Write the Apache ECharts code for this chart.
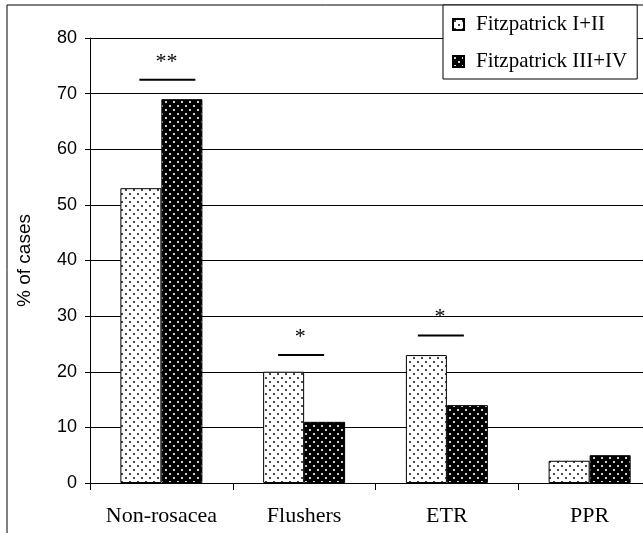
<!DOCTYPE html>
<html>
<head>
<meta charset="utf-8">
<script src="https://cdn.jsdelivr.net/npm/echarts@6/dist/echarts.min.js"></script>
<style>
  html, body { margin: 0; padding: 0; background: #fff; }
  #chart { width: 643px; height: 533px; }
</style>
</head>
<body>
<div id="chart"></div>
<script>
// Rosacea subtype distribution by Fitzpatrick skin type group
const categories = ['Non-rosacea', 'Flushers', 'ETR', 'PPR'];
const fitzLow = [53, 20, 23, 4];    // Fitzpatrick I+II, % of cases
const fitzHigh = [69, 11, 14, 5];   // Fitzpatrick III+IV, % of cases
const yTicks = { min: 0, max: 80, interval: 10 };

// Significance brackets: category, marker, height of the bar line (% scale)
const sigCategories = ['Non-rosacea', 'Flushers', 'ETR'];
const sigMarks = ['**', '*', '*'];
const sigLevels = [72.5, 23, 26.5];

// Dotted fill patterns
function dotPattern(bg, dot) {
  const c = document.createElement('canvas');
  c.width = 8; c.height = 8;
  const ctx = c.getContext('2d');
  ctx.fillStyle = bg;
  ctx.fillRect(0, 0, 8, 8);
  ctx.fillStyle = dot;
  ctx.fillRect(1, 1, 2, 2);
  ctx.fillRect(5, 5, 2, 2);
  return { image: c, repeat: 'repeat' };
}
const lightFill = dotPattern('#ffffff', '#4a4a4a');
const darkFill = dotPattern('#000000', '#d0d0d0');

const SERIF = '"Liberation Serif", "Times New Roman", serif';
const SANS = '"Liberation Sans", Arial, sans-serif';

// horizontal nudge and half-width of each bracket line, in px
const SIG_SHIFT = [6, -3, -6];
const SIG_HALF = [28, 23, 23];

const chart = echarts.init(document.getElementById('chart'));
chart.setOption({
  animation: false,
  backgroundColor: '#fff',
  // the plot runs past the right edge of the frame
  grid: { left: 90, top: 38, width: 571, height: 445, containLabel: false, outerBoundsMode: 'none' },
  legend: {
    orient: 'vertical',
    left: 443,
    top: 5,
    backgroundColor: '#fff',
    borderColor: '#000',
    borderWidth: 1,
    borderRadius: 0,
    padding: [9, 10, 7, 9],
    itemGap: 16,
    itemWidth: 11,
    itemHeight: 11,
    icon: 'rect',
    z: 10,
    textStyle: { fontFamily: SERIF, fontSize: 21, color: '#000', padding: [0, 0, 0, 7] },
    data: ['Fitzpatrick I+II', 'Fitzpatrick III+IV']
  },
  graphic: [{
    type: 'rect',
    shape: { x: 7, y: 5, width: 700, height: 600 },
    style: { fill: 'none', stroke: '#000', lineWidth: 1 },
    z: -1,
    silent: true
  }],
  xAxis: {
    type: 'category',
    data: categories,
    axisLine: { lineStyle: { color: '#000', width: 1 } },
    axisTick: { show: true, length: 7, interval: 0, lineStyle: { color: '#000' } },
    axisLabel: { fontFamily: SERIF, fontSize: 22, color: '#000', margin: 22, interval: 0, hideOverlap: false },
    splitLine: { show: false }
  },
  yAxis: {
    type: 'value',
    min: yTicks.min,
    max: yTicks.max,
    interval: yTicks.interval,
    name: '% of cases',
    nameLocation: 'middle',
    nameGap: 56,
    nameTextStyle: { fontFamily: SANS, fontSize: 19, color: '#000' },
    axisLine: { show: true, lineStyle: { color: '#000', width: 1 } },
    axisTick: { show: true, length: 5, lineStyle: { color: '#000' } },
    axisLabel: { fontFamily: SANS, fontSize: 18, color: '#000', margin: 13 },
    splitLine: { show: true, lineStyle: { color: '#000', width: 1 } }
  },
  series: [
    {
      name: 'Fitzpatrick I+II',
      type: 'bar',
      data: fitzLow,
      barWidth: 41,
      barGap: '0%',
      itemStyle: { color: lightFill, borderColor: '#000', borderWidth: 1 }
    },
    {
      name: 'Fitzpatrick III+IV',
      type: 'bar',
      data: fitzHigh,
      barWidth: 41,
      barGap: '0%',
      itemStyle: { color: darkFill, borderColor: '#000', borderWidth: 1 }
    },
    {
      type: 'custom',
      silent: true,
      z: 5,
      data: sigCategories.map((c, i) => [categories.indexOf(c), sigLevels[i], i]),
      renderItem: function (params, api) {
        const i = api.value(2);
        const p = api.coord([api.value(0), api.value(1)]);
        const cx = p[0] + SIG_SHIFT[i];
        const half = SIG_HALF[i];
        return {
          type: 'group',
          children: [
            {
              type: 'line',
              shape: { x1: cx - half, y1: p[1], x2: cx + half, y2: p[1] },
              style: { stroke: '#000', lineWidth: 2 }
            },
            {
              type: 'text',
              style: {
                x: cx - 1,
                y: p[1] - 18,
                text: sigMarks[i],
                fill: '#000',
                font: '22px ' + SERIF,
                textAlign: 'center',
                textVerticalAlign: 'middle'
              }
            }
          ]
        };
      }
    }
  ]
});
</script>
</body>
</html>
